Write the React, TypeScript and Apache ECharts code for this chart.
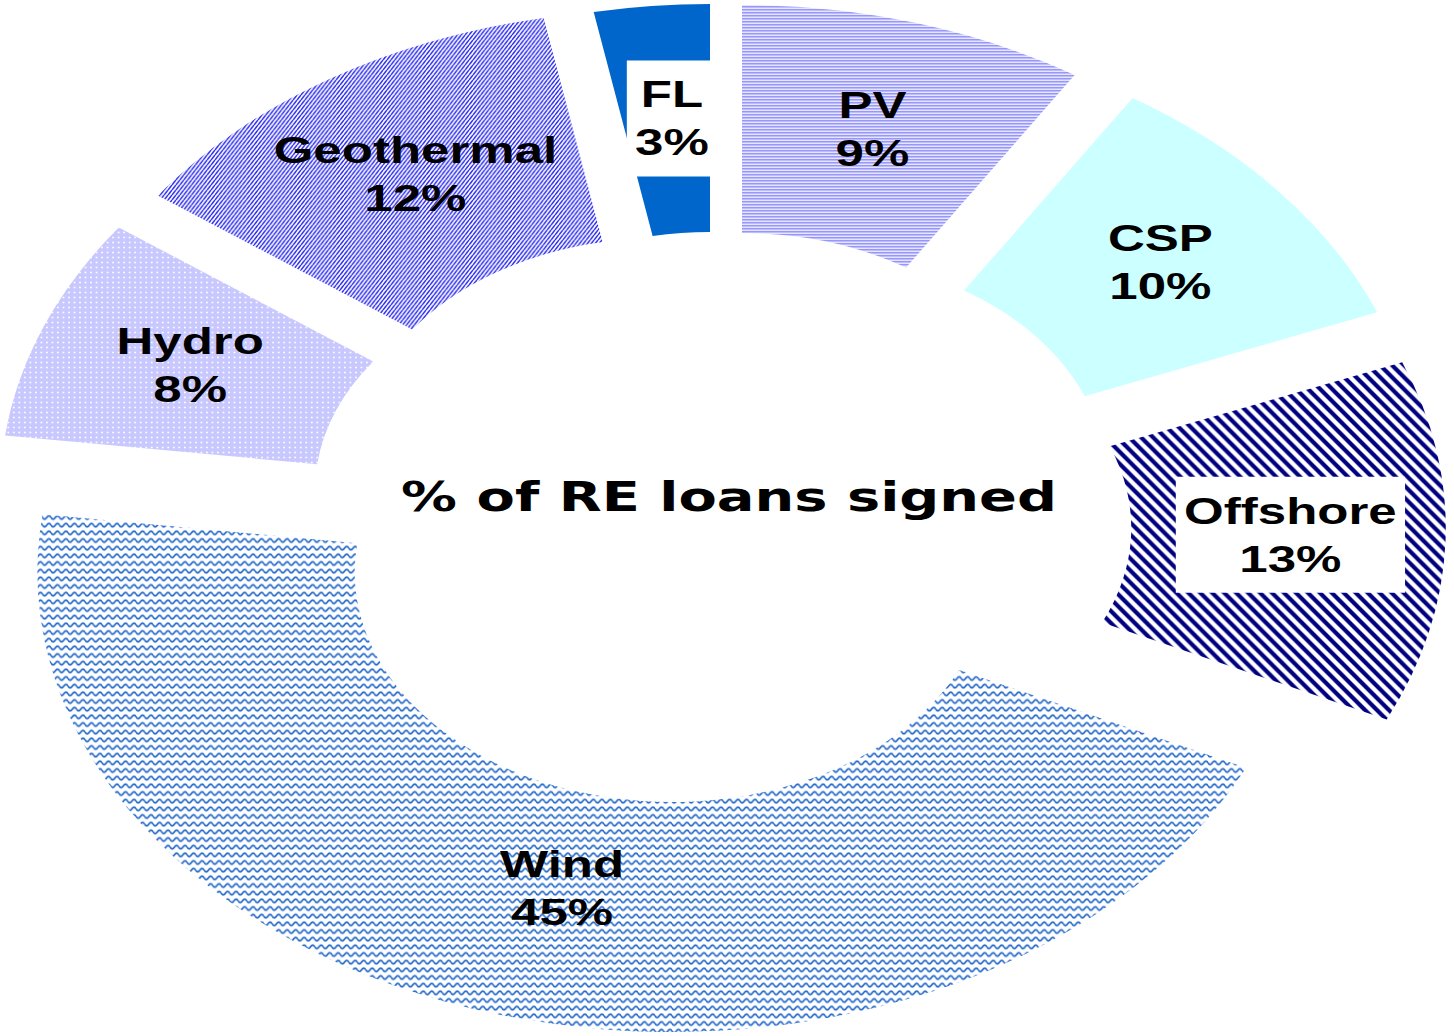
import React, { useEffect, useRef } from "react";
import * as echarts from "echarts";

// ---- data ----
const categories = ["PV", "CSP", "Offshore", "Wind", "Hydro", "Geothermal", "FL"];
const shares = [9, 10, 13, 45, 8, 12, 3];
const centerTitle = "% of RE loans signed";

// ---- layout (screen px); chart is drawn unstretched then stretched horizontally ----
const W_U = 1054;
const H = 1036;
const SX = 1454 / W_U;
const sliceCenters: [number, number][] = [
  [742, 455],
  [800, 478],
  [825, 528],
  [672, 572],
  [621, 492],
  [660, 460],
  [710, 454],
];
const sliceRadii: [number, number][] = [
  [222, 450],
  [222, 450],
  [222, 450],
  [230, 460],
  [222, 450],
  [222, 450],
  [222, 450],
];
// label nudges in screen px
const labelOffsets: [number, number][] = [
  [0, 0],
  [0, 0],
  [-2, -4],
  [24, -18],
  [4, -2],
  [6, 0],
  [6, 2],
];
const boxedLabels = ["Offshore", "FL"];

function makePattern(
  wS: number,
  hS: number,
  bg: string | null,
  draw: (c: CanvasRenderingContext2D) => void
) {
  const res = 6;
  const wU = wS / SX;
  const cv = document.createElement("canvas");
  cv.width = Math.max(1, Math.round(wU * res));
  cv.height = Math.max(1, Math.round(hS * res));
  const ctx = cv.getContext("2d")!;
  ctx.scale(cv.width / wS, cv.height / hS);
  if (bg) {
    ctx.fillStyle = bg;
    ctx.fillRect(0, 0, wS, hS);
  }
  draw(ctx);
  return {
    image: cv,
    repeat: "repeat",
    imageWidth: cv.width / res,
    imageHeight: cv.height / res,
  } as any;
}

function diag(ctx: CanvasRenderingContext2D, w: number, h: number, down: boolean, color: string, lw: number) {
  ctx.strokeStyle = color;
  ctx.lineWidth = lw;
  for (const x0 of [-w, 0, w]) {
    ctx.beginPath();
    if (down) {
      ctx.moveTo(x0 - w, -h);
      ctx.lineTo(x0 + 2 * w, 2 * h);
    } else {
      ctx.moveTo(x0 - w, 2 * h);
      ctx.lineTo(x0 + 2 * w, -h);
    }
    ctx.stroke();
  }
}

function buildFills() {
  const pv = makePattern(4, 3, "#eaeaff", (c) => {
    c.fillStyle = "#9393fb";
    c.fillRect(0, 0, 4, 1.1);
    c.fillStyle = "#bdbdff";
    c.fillRect(0, 1.1, 4, 0.9);
  });
  const csp = "#ccffff";
  const offshore = makePattern(12, 12, "#ffffff", (c) => diag(c, 12, 12, true, "#000080", 4.2));
  const wind = makePattern(8.6, 7.6, "#ffffff", (c) => {
    c.strokeStyle = "#1f66c9";
    c.lineWidth = 1.6;
    c.beginPath();
    let first = true;
    for (let x = -1; x <= 9.6; x += 0.2) {
      const y = 3.8 + 1.6 * Math.sin((2 * Math.PI * x) / 8.6);
      if (first) {
        c.moveTo(x, y);
        first = false;
      } else c.lineTo(x, y);
    }
    c.stroke();
  });
  const hydro = makePattern(5.5, 5, "#c8c8ff", (c) => {
    c.fillStyle = "#ffffff";
    c.beginPath();
    c.arc(2.75, 2.5, 0.9, 0, Math.PI * 2);
    c.fill();
  });
  const geo = makePattern(4, 5, "#ffffff", (c) => diag(c, 4, 5, false, "#2828f0", 1.4));
  const fl = "#0066cc";
  return [pv, csp, offshore, wind, hydro, geo, fl];
}

export default function App() {
  const ref = useRef<HTMLDivElement>(null);
  useEffect(() => {
    if (!ref.current) return;
    const chart = echarts.init(ref.current, null, { renderer: "svg" });
    const fills = buildFills();
    const series = categories.map((name, i) => {
      const boxed = boxedLabels.includes(name);
      return {
        type: "pie",
        name,
        center: [sliceCenters[i][0] / SX, sliceCenters[i][1]],
        radius: sliceRadii[i],
        startAngle: 90,
        clockwise: true,
        avoidLabelOverlap: false,
        silent: true,
        emphasis: { disabled: true },
        labelLine: { show: false },
        data: categories.map((n, j) => ({
          name: n,
          value: shares[j],
          itemStyle: {
            color: j === i ? fills[j] : "rgba(0,0,0,0)",
            borderWidth: 0,
          },
          label: {
            show: j === i,
            position: "inside",
            formatter: (p: any) => `${p.name}\n${p.value}%`,
            fontFamily: "'Liberation Sans', Arial, sans-serif",
            fontWeight: "bold",
            fontSize: 37,
            lineHeight: 48,
            color: "#000",
            backgroundColor: boxed ? "#ffffff" : "transparent",
            padding: boxed ? [10, 6] : 0,
            offset: [labelOffsets[j][0] / SX, labelOffsets[j][1]],
          },
        })),
      };
    });
    chart.setOption({
      animation: false,
      backgroundColor: "#ffffff",
      series,
      graphic: [
        {
          type: "text",
          x: 729 / SX,
          y: 497,
          style: {
            text: centerTitle,
            fontFamily: "'DejaVu Sans', sans-serif",
            fontWeight: "bold",
            fontSize: 40.5,
            fill: "#000",
            align: "center",
            verticalAlign: "middle",
          },
        },
      ],
    } as any);
    return () => chart.dispose();
  }, []);
  return (
    <div
      style={{
        position: "absolute",
        left: 0,
        top: 0,
        width: W_U,
        height: H,
        transform: `scaleX(${SX})`,
        transformOrigin: "0 0",
        background: "#fff",
      }}
    >
      <div ref={ref} style={{ width: W_U, height: H }} />
    </div>
  );
}
